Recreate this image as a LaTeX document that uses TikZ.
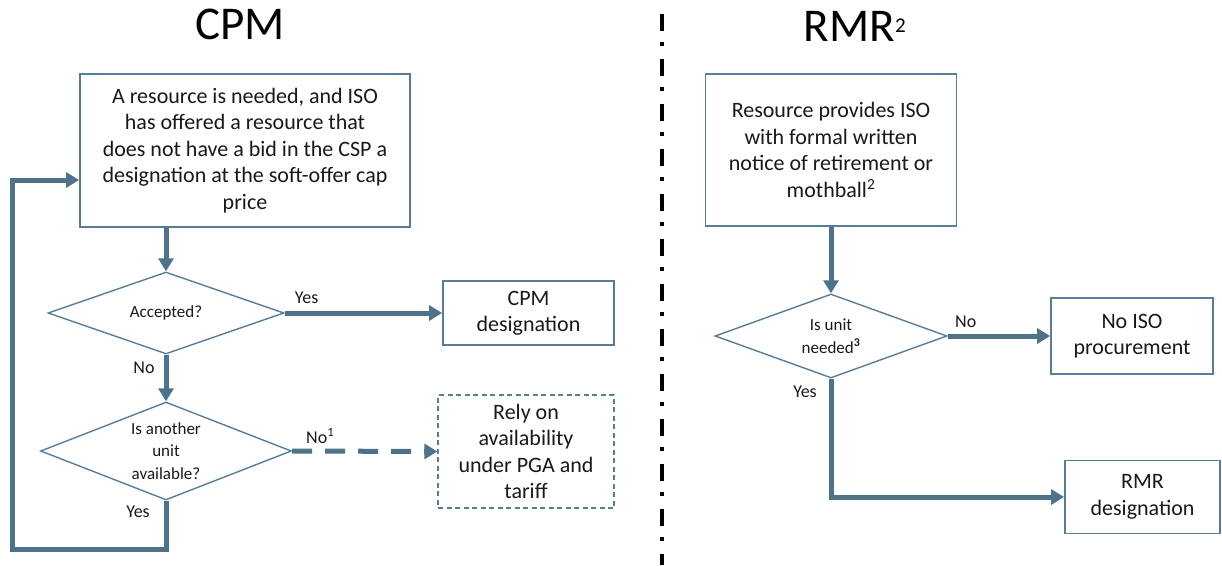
\documentclass[tikz,border=0pt]{standalone}
\usepackage{fontspec}
\setmainfont{Carlito}
\usepackage{tikz}
\usetikzlibrary{arrows.meta,shapes.geometric}

\definecolor{flowblue}{RGB}{78,114,137}
\definecolor{edgeblue}{RGB}{88,126,150}
\definecolor{inkgray}{RGB}{25,25,25}

\begin{document}
\begin{tikzpicture}[x=1pt,y=-1pt,
        box/.style={draw=edgeblue, line width=1.8pt, fill=white, text=inkgray, align=center,
            inner sep=0pt, font=\fontsize{22}{26.5}\selectfont},
        dashbox/.style={box, line width=1.3pt, dash pattern=on 5pt off 3.5pt},
        decision/.style={diamond, aspect=2.5, draw=edgeblue, line width=1.4pt, text=inkgray, align=center,
            inner sep=-6pt, font=\fontsize{17}{22.5}\selectfont},
        conn/.style={draw=flowblue, line width=5pt,
            -{Triangle[length=13pt,width=15pt]}},
        lbl/.style={text=inkgray, font=\fontsize{18}{20}\selectfont},
        heading/.style={text=black, font=\fontsize{47}{50}\selectfont}
    ]
        \useasboundingbox (0,0) rectangle (1222,565);

        % CPM side
        \node[heading] (cpmtitle) at (240,24) {CPM};

        \node[box, minimum width=330pt, minimum height=153pt] (offer) at (245,150.5)
            {A resource is needed, and ISO\\has offered a resource that\\does not have a bid in the CSP a\\designation at the soft-offer cap\\price};
        \node[decision, minimum width=236pt, minimum height=82pt] (accepted) at (166,313) {Accepted?};
        \node[box, minimum width=171pt, minimum height=64pt] (cpmdes) at (528.5,313) {CPM\\designation};
        \node[decision, minimum width=251pt, minimum height=98pt] (another) at (166,451)
            {Is another\\unit\\available?};
        \node[dashbox, minimum width=176pt, minimum height=113pt] (rely) at (526,451.5)
            {Rely on\\availability\\under PGA and\\tariff};
        \coordinate (loopc) at (12,549);

        \draw[conn] (offer.south -| accepted.north) -- (accepted.north);
        \draw[conn] (accepted.east) -- (cpmdes.west);
        \draw[conn] (accepted.south) -- (another.north);
        \draw[conn, dash pattern=on 20pt off 13pt] (another.east) -- (rely.west);
        \draw[conn] (another.south) |- (loopc) |- ([yshift=-29.5pt]offer.west);

        \path (accepted.east) ++(22,-15) node[lbl] {Yes};
        \path (accepted.south) ++(-22,13) node[lbl] {No};
        \path (another.east) ++(28,-15) node[lbl] {No\textsuperscript{1}};
        \path (another.south) ++(-28,11) node[lbl] {Yes};

        % RMR side
        \draw[black, line width=4pt, dash pattern=on 17pt off 11pt on 4pt off 13pt] (662,14) -- (662,565);

        \node[heading] (rmrtitle) at (855,26) {RMR\textsuperscript{\fontsize{21}{21}\selectfont 2}};

        \node[box, minimum width=251pt, minimum height=152pt] (notice) at (831,150)
            {Resource provides ISO\\with formal written\\notice of retirement or\\mothball\textsuperscript{2}};
        \node[decision, minimum width=232pt, minimum height=84pt] (needed) at (831,336)
            {Is unit\\needed\textsuperscript{\textbf{3}}};
        \node[box, minimum width=162pt, minimum height=76pt] (noiso) at (1132,336) {No ISO\\procurement};
        \node[box, minimum width=155pt, minimum height=73pt] (rmrdes) at (1142.5,497) {RMR\\designation};

        \draw[conn] (notice.south) -- (needed.north);
        \draw[conn] (needed.east) -- (noiso.west);
        \draw[conn] (needed.south) |- (rmrdes.west);

        \path (needed.east) ++(18,-14) node[lbl] {No};
        \path (needed.south) ++(-26,13) node[lbl] {Yes};
\end{tikzpicture}
\end{document}
